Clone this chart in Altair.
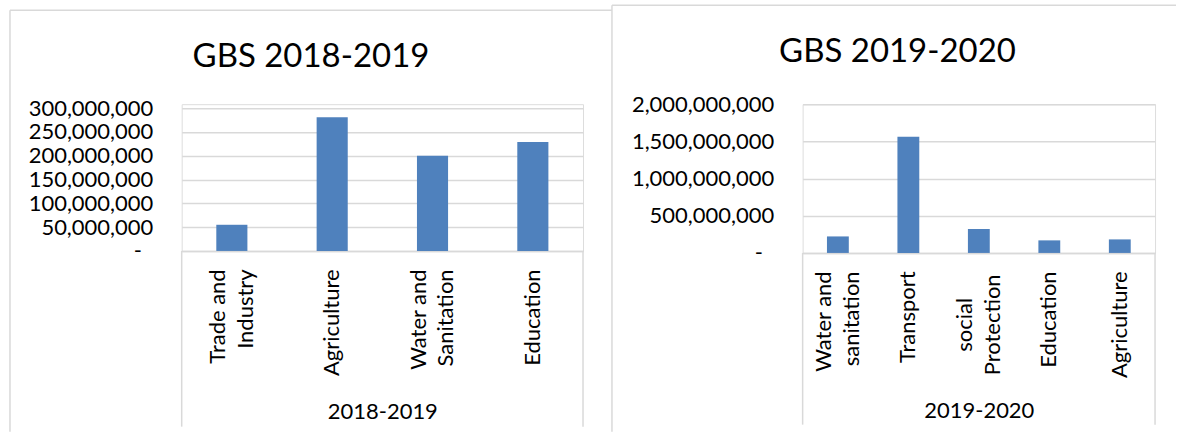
import json
import altair as alt
import pandas as pd

# ---- data ----
left_title = "GBS 2018-2019"
left_group = "2018-2019"
left_categories = ["Trade and Industry", "Agriculture", "Water and Sanitation", "Education"]
left_values = [55_000_000, 281_000_000, 200_000_000, 229_000_000]
left_ticks = [0, 50_000_000, 100_000_000, 150_000_000, 200_000_000, 250_000_000, 300_000_000]

right_title = "GBS 2019-2020"
right_group = "2019-2020"
right_categories = ["Water and sanitation", "Transport", "social Protection", "Education", "Agriculture"]
right_values = [222_000_000, 1_563_000_000, 322_000_000, 169_000_000, 182_000_000]
right_ticks = [0, 500_000_000, 1_000_000_000, 1_500_000_000, 2_000_000_000]

NB = "\u00a0"
ZW = "\u200b"
label_lines = {
    "Trade and Industry": ["Trade and", "Industry"],
    "Water and Sanitation": ["Water and", "Sanitation"],
    "Water and sanitation": ["Water and", "sanitation"],
}
# this label's two lines are centred on each other in the reference
centered_label = "social Protection"
centered_lines = ["social", "Protection"]

FONT = "Lato"
GRID = "#d9d9d9"
BAR = "#4f81bd"
FS = 22


def cat_expr():
    parts = "".join(
        f"datum.label == '{k}' ? {json.dumps(v, ensure_ascii=False)} : " for k, v in label_lines.items()
    )
    return f"datum.label == '{centered_label}' ? '' : " + parts + "datum.label"


MULTI_TEST = "indexof(" + json.dumps(list(label_lines.keys())) + ", datum.value) >= 0"


def panel(cats, vals, ticks, title, group, width, height, ymax, bx1, bx2, by1, by2,
          title_x, title_y, box_len, group_y):
    df = pd.DataFrame({"cat": cats, "val": vals})
    one = pd.DataFrame({"k": [0]})
    xscale = alt.Scale(paddingInner=0.69, paddingOuter=0.345)
    xaxis = alt.Axis(
        title=group, labelAngle=-90, labelBaseline="middle", labelAlign="right",
        labelPadding=18, ticks=False, tickSize=0, labelFontSize=FS, labelLineHeight=28,
        labelFont=FONT, titleFont=FONT, labelColor="black", titleColor="black",
        labelExpr=cat_expr(),
        labelOffset={"condition": {"test": MULTI_TEST, "value": -14}, "value": 0},
        domain=True, domainColor=GRID, domainWidth=1.5,
        titleFontSize=FS, titleFontWeight="normal", titleBaseline="alphabetic",
        titleY=group_y, labelOverlap=False, labelLimit=0,
    )
    bars = alt.Chart(df).mark_bar(color=BAR).encode(
        x=alt.X("cat:N", sort=None, scale=xscale, axis=xaxis),
        y=alt.Y(
            "val:Q",
            scale=alt.Scale(domain=[0, ymax], nice=False),
            axis=alt.Axis(
                title=None, values=ticks, grid=True, domain=False, ticks=False, tickSize=0,
                labelPadding=29, labelFontSize=FS, labelFont=FONT, labelColor="black",
                gridColor=GRID, gridWidth=1.5,
                labelExpr=f"datum.value == 0 ? '-{NB}{NB}{ZW}' : format(datum.value, ',')",
            ),
        ),
    )
    top_line = alt.Chart(one).mark_rule(color=GRID, strokeWidth=1.5).encode(
        x=alt.value(bx1), x2=alt.value(bx2), y=alt.value(by1)
    )
    left_line = alt.Chart(one).mark_rule(color=GRID, strokeWidth=1.5).encode(
        x=alt.value(bx1), y=alt.value(by1), y2=alt.value(by2)
    )
    vl = alt.Chart(one).mark_rule(color=GRID, strokeWidth=1.5).encode(
        x=alt.value(0), y=alt.value(height), y2=alt.value(height + box_len)
    )
    vr = alt.Chart(one).mark_rule(color=GRID, strokeWidth=1.5).encode(
        x=alt.value(width), y=alt.value(height), y2=alt.value(height + box_len)
    )
    ttl = alt.Chart(one).mark_text(
        text=title, font=FONT, fontSize=33, color="black", align="center", baseline="alphabetic"
    ).encode(x=alt.value(title_x), y=alt.value(title_y))
    layers = [top_line, left_line, bars, vl, vr, ttl]
    if centered_label in cats:
        clabel = alt.Chart(df).transform_filter(
            alt.datum.cat == centered_label
        ).mark_text(
            text=centered_lines, font=FONT, fontSize=FS, color="black", angle=270,
            align="center", baseline="middle", lineHeight=28, dy=-14,
        ).encode(
            x=alt.X("cat:N", sort=None, scale=xscale, axis=xaxis),
            y=alt.value(height + 72),
        )
        layers.append(clabel)
    return alt.layer(*layers).properties(width=width, height=height)


left = panel(left_categories, left_values, left_ticks, left_title, left_group,
             width=402, height=147, ymax=308_400_000,
             bx1=-172, bx2=431, by1=-94, by2=328,
             title_x=129.5, title_y=-37, box_len=176, group_y=168)
right = panel(right_categories, right_values, right_ticks, right_title, right_group,
              width=353, height=149, ymax=2_000_000_000,
              bx1=-191, bx2=374, by1=-99, by2=328,
              title_x=95, title_y=-42, box_len=172, group_y=165)

chart = alt.hconcat(left, right, spacing=220, bounds="flush").properties(
    padding={"left": 8, "top": 3, "right": 0, "bottom": 0}
).configure_view(stroke=None).configure_axis(
    labelFont=FONT, titleFont=FONT, labelColor="black", titleColor="black",
    gridColor=GRID, gridWidth=1.5,
).configure(background="white")

chart.save("out.html", embed_options={"renderer": "svg", "actions": False})
